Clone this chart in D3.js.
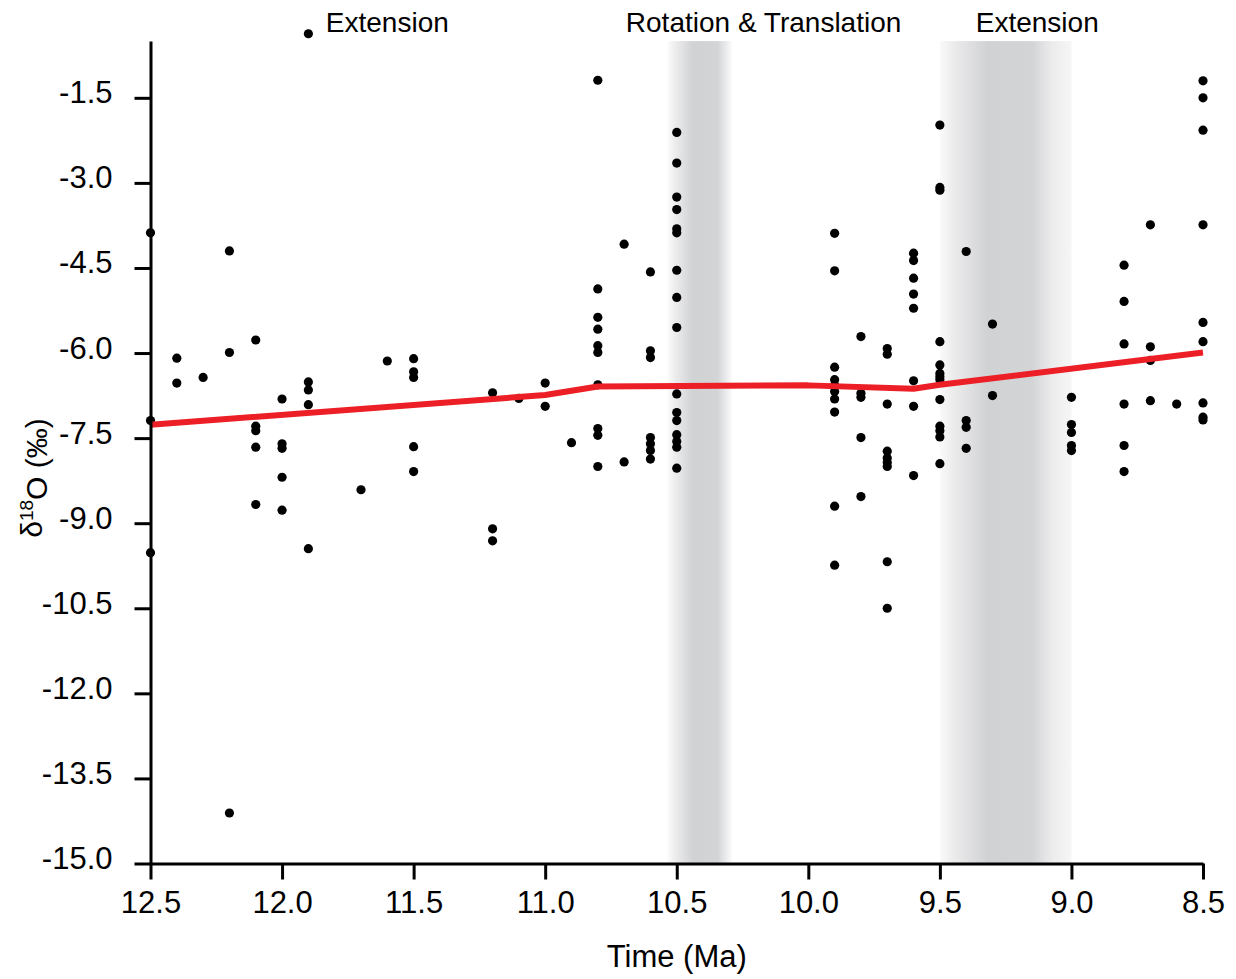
<!DOCTYPE html>
<html>
<head>
<meta charset="utf-8">
<script src="https://cdn.jsdelivr.net/npm/d3@7/dist/d3.min.js"></script>
<style>
  html, body { margin: 0; padding: 0; background: #fff; }
  svg { display: block; font-family: "Liberation Sans", Arial, Helvetica, sans-serif; }
</style>
</head>
<body>
<svg id="chart" width="1236" height="979"></svg>
<script>
// Sample ages (Ma) and their oxygen isotope values, one entry per measured sample
const sampleAge = [
  12.5, 12.5, 12.5,
  12.4, 12.4,
  12.3,
  12.2, 12.2, 12.2,
  12.1, 12.1, 12.1, 12.1, 12.1,
  12.0, 12.0, 12.0, 12.0, 12.0,
  11.9, 11.9, 11.9, 11.9, 11.9,
  11.7,
  11.6,
  11.5, 11.5, 11.5, 11.5, 11.5,
  11.2, 11.2, 11.2,
  11.1,
  11.0, 11.0,
  10.9,
  10.8, 10.8, 10.8, 10.8, 10.8, 10.8, 10.8, 10.8, 10.8, 10.8,
  10.7, 10.7,
  10.6, 10.6, 10.6, 10.6, 10.6, 10.6, 10.6,
  10.5, 10.5, 10.5, 10.5, 10.5, 10.5, 10.5, 10.5, 10.5, 10.5, 10.5, 10.5, 10.5, 10.5, 10.5, 10.5,
  9.9, 9.9, 9.9, 9.9, 9.9, 9.9, 9.9, 9.9, 9.9, 9.9,
  9.8, 9.8, 9.8, 9.8, 9.8,
  9.7, 9.7, 9.7, 9.7, 9.7, 9.7, 9.7, 9.7, 9.7,
  9.6, 9.6, 9.6, 9.6, 9.6, 9.6, 9.6, 9.6,
  9.5, 9.5, 9.5, 9.5, 9.5, 9.5, 9.5, 9.5, 9.5, 9.5, 9.5, 9.5, 9.5,
  9.4, 9.4, 9.4, 9.4,
  9.3, 9.3,
  9.0, 9.0, 9.0, 9.0, 9.0,
  8.8, 8.8, 8.8, 8.8, 8.8, 8.8,
  8.7, 8.7, 8.7, 8.7,
  8.6,
  8.5, 8.5, 8.5, 8.5, 8.5, 8.5, 8.5, 8.5, 8.5
];
const sampleD18O = [
  -3.88, -7.19, -9.52,
  -6.09, -6.53,
  -6.43,
  -4.20, -5.99, -14.11,
  -5.77, -7.29, -7.37, -7.66, -8.67,
  -6.81, -7.60, -7.68, -8.19, -8.77,
  -0.37, -6.51, -6.65, -6.91, -9.45,
  -8.41,
  -6.14,
  -6.10, -6.33, -6.43, -7.65, -8.09,
  -6.70, -9.10, -9.31,
  -6.80,
  -6.53, -6.94,
  -7.58,
  -1.19, -4.87, -5.37, -5.58, -5.87, -5.99, -6.56, -7.33, -7.45, -8.00,
  -4.08, -7.92,
  -4.57, -5.96, -6.08, -7.49, -7.60, -7.72, -7.87,
  -2.11, -2.65, -3.25, -3.47, -3.81, -3.88, -4.54, -5.02, -5.55, -6.72, -7.05, -7.19, -7.44, -7.56, -7.66, -8.03,
  -3.89, -4.55, -6.25, -6.47, -6.57, -6.68, -6.81, -7.04, -8.70, -9.74,
  -5.71, -6.71, -6.78, -7.49, -8.53,
  -5.92, -6.02, -6.90, -7.73, -7.85, -7.93, -8.00, -9.68, -10.50,
  -4.24, -4.37, -4.68, -4.96, -5.21, -6.49, -6.94, -8.16,
  -1.98, -3.08, -3.13, -5.80, -6.21, -6.36, -6.42, -6.47, -6.82, -7.29, -7.37, -7.48, -7.95,
  -4.21, -7.19, -7.31, -7.68,
  -5.49, -6.75,
  -6.78, -7.26, -7.40, -7.63, -7.72,
  -4.45, -5.09, -5.84, -6.90, -7.63, -8.09,
  -3.74, -5.89, -6.13, -6.84,
  -6.90,
  -1.20, -1.50, -2.07, -3.74, -5.46, -5.80, -6.88, -7.13, -7.18
];

// Smoothed trend through the samples
const trendAge  = [12.5, 11.0, 10.8, 10.0, 9.6, 9.5, 8.5];
const trendD18O = [-7.265, -6.74, -6.59, -6.57, -6.63, -6.56, -5.99];

// Shaded intervals (start age, end age)
const bandStart = [10.54, 9.50];
const bandEnd   = [10.29, 9.00];

// Tectonic phase labels and the ages they sit over
const phaseLabels = ["Extension", "Rotation & Translation", "Extension"];
const phaseAges   = [11.6, 10.17, 9.13];

// Axis ticks
const xTicks = [12.5, 12.0, 11.5, 11.0, 10.5, 10.0, 9.5, 9.0, 8.5];
const yTicks = [-1.5, -3.0, -4.5, -6.0, -7.5, -9.0, -10.5, -12.0, -13.5, -15.0];

const svg = d3.select("#chart");

const x = d3.scaleLinear().domain([12.5, 8.5]).range([150.5, 1203]);
const y = d3.scaleLinear().domain([-15, -0.5]).range([863.5, 41.1]);

// Gradient fills for the shaded intervals
const defs = svg.append("defs");
const bandStops = [
  [[0, "#ffffff"], [0.12, "#eeeeef"], [0.4, "#d1d2d4"], [0.78, "#d3d4d6"], [1, "#fbfbfb"]],
  [[0, "#fafafa"], [0.1, "#ececed"], [0.36, "#d1d2d4"], [0.7, "#d3d4d6"], [0.85, "#ebebec"], [1, "#f6f6f6"]]
];
bandStart.forEach((b, i) => {
  const g = defs.append("linearGradient")
    .attr("id", "band" + i)
    .attr("x1", "0").attr("x2", "1").attr("y1", "0").attr("y2", "0");
  bandStops[i].forEach(s => g.append("stop").attr("offset", s[0]).attr("stop-color", s[1]));
});

svg.append("g").selectAll("rect")
  .data(bandStart)
  .join("rect")
  .attr("x", (d, i) => x(bandStart[i]))
  .attr("width", (d, i) => x(bandEnd[i]) - x(bandStart[i]))
  .attr("y", y(-0.5))
  .attr("height", y(-15) - y(-0.5))
  .attr("fill", (d, i) => `url(#band${i})`);

// Sample points
svg.append("g").selectAll("circle")
  .data(sampleAge)
  .join("circle")
  .attr("cx", (d) => x(d))
  .attr("cy", (d, i) => y(sampleD18O[i]))
  .attr("r", 4.6)
  .attr("fill", "#000");

// Trend line
const line = d3.line()
  .x((d) => x(d))
  .y((d, i) => y(trendD18O[i]));
svg.append("path")
  .datum(trendAge)
  .attr("d", line)
  .attr("fill", "none")
  .attr("stroke", "#ed1f26")
  .attr("stroke-width", 6)
  .attr("stroke-linejoin", "round");

const fmt = (d) => d.toFixed(1);

// Y axis
const gy = svg.append("g")
  .attr("transform", `translate(${x(12.5)},0)`)
  .call(d3.axisLeft(y).tickValues(yTicks).tickFormat(fmt).tickSize(16).tickSizeOuter(0).tickPadding(22));

// X axis
const gx = svg.append("g")
  .attr("transform", `translate(0,${y(-15)})`)
  .call(d3.axisBottom(x).tickValues(xTicks).tickFormat(fmt).tickSize(16).tickSizeOuter(0).tickPadding(11));

[gx, gy].forEach(g => {
  g.select(".domain").attr("stroke", "#000").attr("stroke-width", 3);
  g.selectAll(".tick line").attr("stroke", "#000").attr("stroke-width", 3);
  g.selectAll(".tick text")
    .attr("fill", "#000")
    .style("font-size", "31px")
    .style("font-family", "'Liberation Sans', Arial, sans-serif");
});
gy.selectAll(".tick text").attr("dy", "0.16em");

// Phase labels along the top
svg.append("g").selectAll("text")
  .data(phaseLabels)
  .join("text")
  .attr("x", (d, i) => x(phaseAges[i]))
  .attr("y", 32)
  .attr("text-anchor", "middle")
  .style("font-size", "28px")
  .attr("fill", "#000")
  .text((d) => d);

// Axis titles
svg.append("text")
  .attr("x", x(10.5))
  .attr("y", 967)
  .attr("text-anchor", "middle")
  .style("font-size", "31px")
  .attr("fill", "#000")
  .text("Time (Ma)");

const yt = svg.append("text")
  .attr("transform", "translate(42,478) rotate(-90)")
  .attr("text-anchor", "middle")
  .style("font-size", "30px")
  .attr("fill", "#000");
yt.append("tspan").text("δ");
yt.append("tspan").attr("dy", "-0.45em").style("font-size", "19px").text("18");
yt.append("tspan").attr("dy", "0.45em").text("O (‰)");
</script>
</body>
</html>
